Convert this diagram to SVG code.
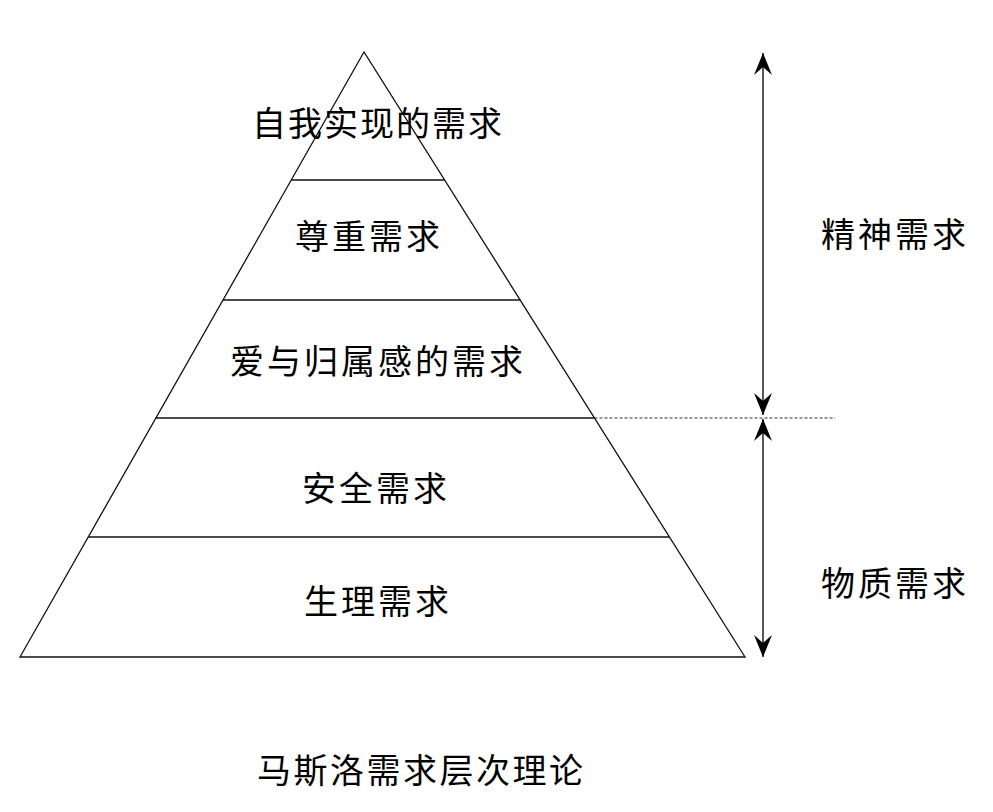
<svg xmlns="http://www.w3.org/2000/svg" width="993" height="812" viewBox="0 0 993 812">
  <style>
    .edge { stroke: #111; stroke-width: 1.3; fill: none; }
    .dash { stroke: #333; stroke-width: 1.1; stroke-dasharray: 3 2; fill: none; }
    .lbl { font-family: "Noto Sans CJK SC", "Noto Sans CJK JP", sans-serif; font-size: 34px; fill: #000; letter-spacing: 3px; }
    .arrow { stroke: #111; stroke-width: 1.4; fill: none; marker-start: url(#ah); marker-end: url(#ah); }
  </style>
  <defs>
    <marker id="ah" markerUnits="userSpaceOnUse" viewBox="-23 -10 24 20" refX="0" refY="0" markerWidth="24" markerHeight="20" orient="auto-start-reverse">
      <path d="M0,0 L-22,-9 L-14,0 L-22,9 Z" fill="#000"/>
    </marker>
  </defs>
  <rect width="993" height="812" fill="#fff"/>

  <g id="pyramid">
    <polygon class="edge" points="364,52 20,657 745,657"/>
  </g>

  <g id="level-self-actualization">
    <text class="lbl" x="252" y="136" style="letter-spacing:2px">自我实现的需求</text>
  </g>
  <g id="level-esteem">
    <line class="edge" x1="291.2" y1="180" x2="444.6" y2="180"/>
    <text class="lbl" x="295" y="249">尊重需求</text>
  </g>
  <g id="level-love">
    <line class="edge" x1="223" y1="300" x2="520.2" y2="300"/>
    <text class="lbl" x="230" y="374">爱与归属感的需求</text>
  </g>
  <g id="level-safety">
    <line class="edge" x1="155.9" y1="418" x2="594.5" y2="418"/>
    <text class="lbl" x="302" y="501">安全需求</text>
  </g>
  <g id="level-physiological">
    <line class="edge" x1="88.2" y1="537" x2="669.4" y2="537"/>
    <text class="lbl" x="304" y="614">生理需求</text>
  </g>

  <g id="group-spiritual">
    <text class="lbl" x="821" y="247">精神需求</text>
  </g>
  <g id="group-material">
    <text class="lbl" x="821" y="596">物质需求</text>
  </g>

  <g id="connectors">
    <line class="dash" x1="594.5" y1="418" x2="835" y2="418"/>
    <line class="arrow" x1="763" y1="53" x2="763" y2="415"/>
    <line class="arrow" x1="763" y1="419" x2="763" y2="657"/>
  </g>

  <g id="title">
    <text class="lbl" x="257" y="783" style="letter-spacing:2.5px">马斯洛需求层次理论</text>
  </g>
</svg>
